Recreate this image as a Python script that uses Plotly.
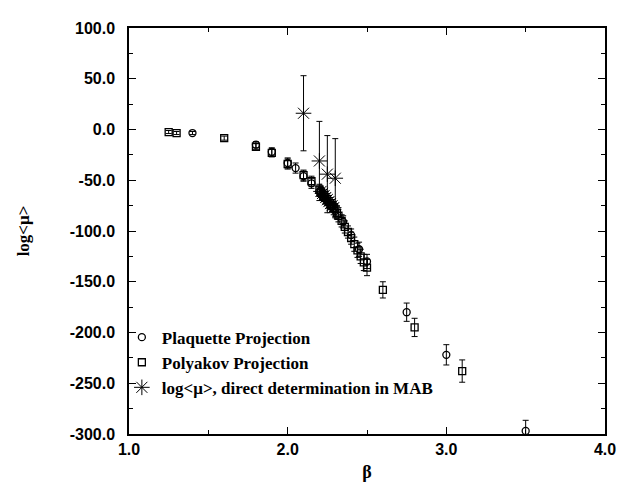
import plotly.graph_objects as go

# Plaquette projection (circles)
plaq_beta = [1.40, 1.80, 1.90, 2.00, 2.05, 2.10, 2.15, 2.20, 2.22, 2.24, 2.26, 2.28, 2.30, 2.35, 2.40, 2.45, 2.50, 2.75, 3.00, 3.50]
plaq_val = [-3.5, -15, -22, -33, -38, -46, -53, -61, -65, -68, -72, -76, -80, -91, -104, -118, -130, -180, -222, -297]
plaq_err = [1.5, 3, 4, 5, 5, 5, 5, 5, 5, 5, 5, 5, 6, 6, 6, 7, 7, 9, 10, 10.5]

# Polyakov projection (squares)
poly_beta = [1.25, 1.30, 1.60, 1.80, 1.90, 2.00, 2.10, 2.15, 2.20, 2.21, 2.23, 2.25, 2.27, 2.29, 2.31, 2.32, 2.34, 2.36, 2.38, 2.40, 2.42, 2.44, 2.46, 2.48, 2.50, 2.60, 2.80, 3.10]
poly_val = [-2.5, -3.5, -8.5, -17, -23, -34, -45, -51, -59, -62, -66, -70, -74, -78, -82, -85, -90, -96, -101, -107, -113, -119, -125, -131, -136, -158, -195, -238]
poly_err = [1.5, 1.5, 2, 3, 4, 5, 5, 5, 5, 5, 5, 5, 5, 6, 6, 6, 6, 6, 6, 6, 7, 7, 7, 8, 8, 8, 9, 11]

# log<mu>, direct determination in MAB (stars)
mab_beta = [2.10, 2.20, 2.25, 2.30, 2.21, 2.22, 2.23, 2.24, 2.25, 2.26, 2.27, 2.28, 2.29]
mab_val = [16, -31, -44, -48, -61, -63, -65, -67, -69, -71, -73, -75, -77]
mab_err = [37, 39, 38, 39, 4, 4, 4, 4, 4, 4, 4, 4, 4]

x_ticks = [1.0, 2.0, 3.0, 4.0]
x_labels = ["1.0", "2.0", "3.0", "4.0"]
y_ticks = [100, 50, 0, -50, -100, -150, -200, -250, -300]
y_labels = ["100.0", "50.0", "0.0", "-50.0", "-100.0", "-150.0", "-200.0", "-250.0", "-300.0"]

err_style = dict(type="data", thickness=1, width=3, color="black")

fig = go.Figure()
fig.add_trace(go.Scatter(
    x=plaq_beta, y=plaq_val, mode="markers", name="<b>Plaquette Projection</b>",
    error_y=dict(array=plaq_err, **err_style),
    marker=dict(symbol="circle-open", size=7, color="black", line=dict(width=1.3, color="black")),
))
fig.add_trace(go.Scatter(
    x=poly_beta, y=poly_val, mode="markers", name="<b>Polyakov Projection</b>",
    error_y=dict(array=poly_err, **err_style),
    marker=dict(symbol="square-open", size=7, color="black", line=dict(width=1.3, color="black")),
))
fig.add_trace(go.Scatter(
    x=mab_beta, y=mab_val, mode="markers", name="<b>log&lt;μ&gt;, direct determination in MAB</b>",
    error_y=dict(array=mab_err, **err_style),
    marker=dict(symbol="asterisk-open", size=13, color="black", line=dict(width=1, color="black")),
))

axis_common = dict(
    showline=True, linecolor="black", linewidth=1.5, mirror="ticks",
    ticks="inside", ticklen=7, tickwidth=1.2, tickcolor="black",
    showgrid=False, zeroline=False,
    tickfont=dict(family="Liberation Sans, Arial", size=16, color="black", weight="bold"),
)

fig.update_xaxes(
    range=[1.0, 4.0], tickvals=x_ticks, ticktext=x_labels,
    minor=dict(ticks="inside", ticklen=4, tickwidth=1, tickcolor="black", dtick=0.5, tick0=1.0),
    title=dict(text="<b>β</b>", font=dict(family="Liberation Serif", size=18, color="black"), standoff=8),
    **axis_common,
)
fig.update_yaxes(
    range=[-300, 100], tickvals=y_ticks, ticktext=y_labels,
    minor=dict(ticks="inside", ticklen=4, tickwidth=1, tickcolor="black", dtick=25, tick0=0),
    ticklabelstandoff=9,
    title=dict(text="<b>log&lt;μ&gt;</b>", font=dict(family="Liberation Serif", size=17, color="black"), standoff=36),
    **axis_common,
)

fig.update_layout(
    width=628, height=483,
    margin=dict(l=121, r=31, t=12, b=55),
    paper_bgcolor="white", plot_bgcolor="white",
    showlegend=True,
    legend=dict(
        x=-0.015, y=0.07, xanchor="left", yanchor="bottom",
        bgcolor="rgba(0,0,0,0)", borderwidth=0,
        font=dict(family="Liberation Serif", size=17, color="black"),
        itemwidth=30, tracegroupgap=0,
    ),
)

fig.write_html("out.html")
